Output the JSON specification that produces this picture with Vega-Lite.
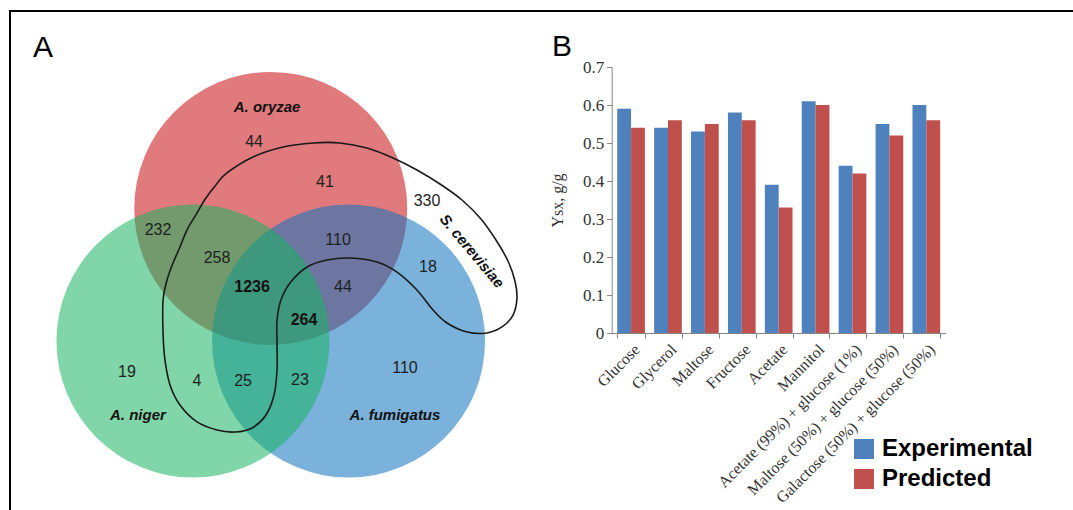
{
  "$schema": "https://vega.github.io/schema/vega-lite/v6.json",
  "autosize": {"type": "none"},
  "width": 1083,
  "height": 519,
  "padding": {"left": 10, "top": 11, "right": -20, "bottom": -20},
  "config": {"view": {"stroke": "#000000", "strokeWidth": 2}, "font": "Liberation Sans"},
  "datasets": {
    "circles": [
      {"set": "A. oryzae", "x": 0, "y": 0.971},
      {"set": "A. fumigatus", "x": 0.57, "y": 0},
      {"set": "A. niger", "x": -0.57, "y": 0}
    ],
    "curve": [
      {"i": 1, "x": -0.789, "y": 0.059},
      {"i": 2, "x": -0.789, "y": 0.300},
      {"i": 3, "x": -0.760, "y": 0.447},
      {"i": 4, "x": -0.716, "y": 0.571},
      {"i": 5, "x": -0.665, "y": 0.689},
      {"i": 6, "x": -0.614, "y": 0.813},
      {"i": 7, "x": -0.545, "y": 0.930},
      {"i": 8, "x": -0.480, "y": 1.040},
      {"i": 9, "x": -0.408, "y": 1.136},
      {"i": 10, "x": -0.321, "y": 1.231},
      {"i": 11, "x": -0.130, "y": 1.348},
      {"i": 12, "x": 0.090, "y": 1.421},
      {"i": 13, "x": 0.310, "y": 1.451},
      {"i": 14, "x": 0.507, "y": 1.451},
      {"i": 15, "x": 0.705, "y": 1.414},
      {"i": 16, "x": 0.896, "y": 1.341},
      {"i": 17, "x": 1.071, "y": 1.253},
      {"i": 18, "x": 1.240, "y": 1.150},
      {"i": 19, "x": 1.401, "y": 1.033},
      {"i": 20, "x": 1.540, "y": 0.894},
      {"i": 21, "x": 1.650, "y": 0.740},
      {"i": 22, "x": 1.738, "y": 0.586},
      {"i": 23, "x": 1.789, "y": 0.440},
      {"i": 24, "x": 1.804, "y": 0.315},
      {"i": 25, "x": 1.775, "y": 0.190},
      {"i": 26, "x": 1.694, "y": 0.103},
      {"i": 27, "x": 1.584, "y": 0.059},
      {"i": 28, "x": 1.438, "y": 0.066},
      {"i": 29, "x": 1.291, "y": 0.132},
      {"i": 30, "x": 1.189, "y": 0.227},
      {"i": 31, "x": 1.071, "y": 0.374},
      {"i": 32, "x": 0.925, "y": 0.505},
      {"i": 33, "x": 0.778, "y": 0.579},
      {"i": 34, "x": 0.581, "y": 0.608},
      {"i": 35, "x": 0.412, "y": 0.593},
      {"i": 36, "x": 0.266, "y": 0.542},
      {"i": 37, "x": 0.141, "y": 0.425},
      {"i": 38, "x": 0.075, "y": 0.300},
      {"i": 39, "x": 0.046, "y": 0.154},
      {"i": 40, "x": 0.046, "y": -0.029},
      {"i": 41, "x": 0.046, "y": -0.212},
      {"i": 42, "x": 0.024, "y": -0.396},
      {"i": 43, "x": -0.035, "y": -0.542},
      {"i": 44, "x": -0.137, "y": -0.637},
      {"i": 45, "x": -0.262, "y": -0.667},
      {"i": 46, "x": -0.394, "y": -0.652},
      {"i": 47, "x": -0.540, "y": -0.593},
      {"i": 48, "x": -0.665, "y": -0.469},
      {"i": 49, "x": -0.738, "y": -0.322},
      {"i": 50, "x": -0.775, "y": -0.139}
    ],
    "counts": [
      {"label": "44", "x": -0.122, "y": 1.458},
      {"label": "41", "x": 0.397, "y": 1.165},
      {"label": "330", "x": 1.145, "y": 1.026},
      {"label": "232", "x": -0.826, "y": 0.813},
      {"label": "258", "x": -0.394, "y": 0.608},
      {"label": "110", "x": 0.493, "y": 0.740},
      {"label": "18", "x": 1.152, "y": 0.542},
      {"label": "1236", "x": -0.137, "y": 0.396},
      {"label": "44", "x": 0.529, "y": 0.396},
      {"label": "264", "x": 0.244, "y": 0.154},
      {"label": "19", "x": -1.053, "y": -0.227},
      {"label": "4", "x": -0.540, "y": -0.293},
      {"label": "25", "x": -0.203, "y": -0.293},
      {"label": "23", "x": 0.214, "y": -0.286},
      {"label": "110", "x": 0.983, "y": -0.198}
    ],
    "species": [
      {"name": "A. oryzae", "x": -0.027, "y": 1.714},
      {"name": "A. niger", "x": -0.973, "y": -0.542},
      {"name": "A. fumigatus", "x": 0.910, "y": -0.542},
      {"name": "S. cerevisiae", "x": 1.474, "y": 0.659}
    ],
    "panels": [
      {"panel": "A", "x": -1.669, "y": 2.147},
      {"panel": "B", "x": 2.134, "y": 2.154}
    ],
    "bars": [
      {"substrate": "Glucose", "series": "Experimental", "value": 0.59},
      {"substrate": "Glucose", "series": "Predicted", "value": 0.54},
      {"substrate": "Glycerol", "series": "Experimental", "value": 0.54},
      {"substrate": "Glycerol", "series": "Predicted", "value": 0.56},
      {"substrate": "Maltose", "series": "Experimental", "value": 0.53},
      {"substrate": "Maltose", "series": "Predicted", "value": 0.55},
      {"substrate": "Fructose", "series": "Experimental", "value": 0.58},
      {"substrate": "Fructose", "series": "Predicted", "value": 0.56},
      {"substrate": "Acetate", "series": "Experimental", "value": 0.39},
      {"substrate": "Acetate", "series": "Predicted", "value": 0.33},
      {"substrate": "Mannitol", "series": "Experimental", "value": 0.61},
      {"substrate": "Mannitol", "series": "Predicted", "value": 0.60},
      {"substrate": "Acetate (99%) + glucose (1%)", "series": "Experimental", "value": 0.44},
      {"substrate": "Acetate (99%) + glucose (1%)", "series": "Predicted", "value": 0.42},
      {"substrate": "Maltose (50%) + glucose (50%)", "series": "Experimental", "value": 0.55},
      {"substrate": "Maltose (50%) + glucose (50%)", "series": "Predicted", "value": 0.52},
      {"substrate": "Galactose (50%) + glucose (50%)", "series": "Experimental", "value": 0.60},
      {"substrate": "Galactose (50%) + glucose (50%)", "series": "Predicted", "value": 0.56}
    ]
  },
  "layer": [
    {
      "layer": [
        {
          "data": {"name": "circles"},
          "mark": {"type": "point", "filled": true, "shape": "circle", "size": 74529, "opacity": 0.55, "strokeWidth": 0},
          "encoding": {
            "x": {"field": "x", "type": "quantitative", "scale": {"domain": [-2, 2], "range": [-12.25, 533.75], "nice": false, "zero": false}, "axis": null},
            "y": {"field": "y", "type": "quantitative", "scale": {"domain": [-2, 2], "range": [603, 57], "nice": false, "zero": false}, "axis": null},
            "color": {"field": "set", "type": "nominal", "scale": {"domain": ["A. oryzae", "A. fumigatus", "A. niger"], "range": ["#C70D13", "#0D73BF", "#18B461"]}, "legend": null}
          }
        },
        {
          "data": {"name": "curve"},
          "mark": {"type": "line", "interpolate": "cardinal-closed", "color": "#1a1a1a", "strokeWidth": 1.6},
          "encoding": {
            "x": {"field": "x", "type": "quantitative", "axis": null},
            "y": {"field": "y", "type": "quantitative", "axis": null},
            "order": {"field": "i", "type": "quantitative"}
          }
        },
        {
          "data": {"name": "counts"},
          "transform": [{"filter": {"not": {"field": "label", "oneOf": ["1236", "264"]}}}],
          "mark": {"type": "text", "fontSize": 16, "color": "#1e1e1e", "align": "center", "baseline": "middle"},
          "encoding": {
            "x": {"field": "x", "type": "quantitative", "axis": null},
            "y": {"field": "y", "type": "quantitative", "axis": null},
            "text": {"field": "label"}
          }
        },
        {
          "data": {"name": "counts"},
          "transform": [{"filter": {"field": "label", "oneOf": ["1236", "264"]}}],
          "mark": {"type": "text", "fontSize": 16, "fontWeight": "bold", "color": "#111111", "align": "center", "baseline": "middle"},
          "encoding": {
            "x": {"field": "x", "type": "quantitative", "axis": null},
            "y": {"field": "y", "type": "quantitative", "axis": null},
            "text": {"field": "label"}
          }
        },
        {
          "data": {"name": "species"},
          "transform": [{"filter": {"not": {"field": "name", "equal": "S. cerevisiae"}}}],
          "mark": {"type": "text", "fontSize": 15, "fontWeight": "bold", "fontStyle": "italic", "color": "#111111", "align": "center", "baseline": "middle"},
          "encoding": {
            "x": {"field": "x", "type": "quantitative", "axis": null},
            "y": {"field": "y", "type": "quantitative", "axis": null},
            "text": {"field": "name"}
          }
        },
        {
          "data": {"name": "species"},
          "transform": [{"filter": {"field": "name", "equal": "S. cerevisiae"}}],
          "mark": {"type": "text", "fontSize": 15, "fontWeight": "bold", "fontStyle": "italic", "color": "#111111", "align": "center", "baseline": "middle", "angle": 50},
          "encoding": {
            "x": {"field": "x", "type": "quantitative", "axis": null},
            "y": {"field": "y", "type": "quantitative", "axis": null},
            "text": {"field": "name"}
          }
        },
        {
          "data": {"name": "panels"},
          "mark": {"type": "text", "fontSize": 30, "color": "#000000", "align": "center", "baseline": "middle"},
          "encoding": {
            "x": {"field": "x", "type": "quantitative", "axis": null},
            "y": {"field": "y", "type": "quantitative", "axis": null},
            "text": {"field": "panel"}
          }
        }
      ]
    },
    {
      "data": {"name": "bars"},
      "mark": {"type": "bar"},
      "encoding": {
        "x": {
          "field": "substrate", "type": "nominal", "sort": null,
          "scale": {"range": [601.7, 935.7], "paddingInner": 0.25, "paddingOuter": 0.15},
          "axis": {"orient": "bottom", "offset": -197, "title": null, "labelAngle": -45, "labelFont": "Liberation Serif", "labelFontSize": 16, "labelColor": "#333333", "domainColor": "#868686", "tickColor": "#868686", "tickBand": "extent", "tickSize": 5, "labelPadding": 3, "labelOverlap": false, "labelLimit": 400}
        },
        "xOffset": {"field": "series", "type": "nominal", "sort": ["Experimental", "Predicted"]},
        "y": {
          "field": "value", "type": "quantitative",
          "scale": {"domain": [0, 0.7], "range": [322, 56], "nice": false},
          "axis": {"orient": "left", "offset": -601.7, "values": [0, 0.1, 0.2, 0.3, 0.4, 0.5, 0.6, 0.7], "format": "~g", "title": "Ysx, g/g", "titleFont": "Liberation Serif", "titleFontSize": 16, "titleFontWeight": "normal", "titleColor": "#333333", "labelFont": "Liberation Serif", "labelFontSize": 17, "labelColor": "#333333", "domainColor": "#868686", "tickColor": "#868686", "tickSize": 5, "grid": false, "labelPadding": 3, "titlePadding": 17}
        },
        "color": {
          "field": "series", "type": "nominal",
          "scale": {"domain": ["Experimental", "Predicted"], "range": ["#4F81BD", "#C0504D"]},
          "legend": {"orient": "none", "legendX": 842, "legendY": 426, "title": null, "symbolType": "square", "symbolSize": 400, "symbolStrokeWidth": 0, "symbolOpacity": 1, "labelFont": "Liberation Sans", "labelFontSize": 24, "labelFontWeight": "bold", "labelColor": "#000000", "rowPadding": 6, "labelOffset": 6}
        }
      }
    }
  ],
  "resolve": {
    "scale": {"x": "independent", "y": "independent", "color": "independent"},
    "axis": {"x": "independent", "y": "independent"},
    "legend": {"color": "independent"}
  }
}
